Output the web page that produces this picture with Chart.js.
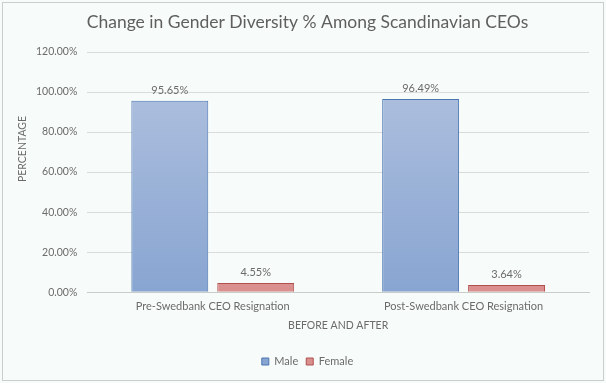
<!DOCTYPE html>
<html>
<head>
<meta charset="utf-8">
<script src="https://cdn.jsdelivr.net/npm/chart.js@4/dist/chart.umd.min.js"></script>
<style>
html,body{margin:0;padding:0;background:#fff;}
#wrap{width:606px;height:383px;position:relative;}
</style>
</head>
<body>
<div id="wrap"><canvas id="c" width="606" height="383"></canvas></div>
<script>
const categories = ["Pre-Swedbank CEO Resignation", "Post-Swedbank CEO Resignation"];
const maleValues = [95.65, 96.49];
const femaleValues = [4.55, 3.64];
const seriesNames = ["Male", "Female"];
const titleText = "Change in Gender Diversity % Among Scandinavian CEOs";
const yTitle = "PERCENTAGE";
const xTitle = "BEFORE AND AFTER";

const FONT = "Lato, 'Open Sans', sans-serif";
const TXT = "#6b6b6b";

function grad(ctx, area, top, bottom) {
  const g = ctx.createLinearGradient(0, area.top, 0, area.bottom);
  g.addColorStop(0, top);
  g.addColorStop(1, bottom);
  return g;
}

const bgPlugin = {
  id: "bg",
  beforeDraw(chart) {
    const c = chart.ctx;
    c.save();
    c.fillStyle = "#f7fbf9";
    c.fillRect(0, 0, chart.width, chart.height);
    c.strokeStyle = "#c9cfcc";
    c.lineWidth = 1;
    c.strokeRect(2.5, 2.5, chart.width - 5, chart.height - 5);
    c.restore();
  }
};

const labelPlugin = {
  id: "vals",
  afterDatasetsDraw(chart) {
    const c = chart.ctx;
    c.save();
    c.font = "11px " + FONT;
    c.fillStyle = TXT;
    c.textAlign = "center";
    c.textBaseline = "bottom";
    chart.data.datasets.forEach((ds, i) => {
      chart.getDatasetMeta(i).data.forEach((bar, j) => {
        c.fillText(ds.data[j].toFixed(2) + "%", bar.x, bar.y - 5);
      });
    });
    // y axis title
    c.font = "10.5px " + FONT;
    c.translate(23, 149);
    c.rotate(-Math.PI / 2);
    c.textBaseline = "middle";
    c.fillText(yTitle, 0, 0);
    c.restore();
  }
};

new Chart(document.getElementById("c"), {
  type: "bar",
  data: {
    labels: categories,
    datasets: [
      {
        label: seriesNames[0],
        data: maleValues,
        backgroundColor: (ctx) => {
          const a = ctx.chart.chartArea;
          if (!a) return "#9db3d9";
          return grad(ctx.chart.ctx, a, "#b3c3e0", "#88a5d1");
        },
        borderColor: "#4a76b2",
        borderWidth: 1,
        categoryPercentage: 0.685,
        barPercentage: 0.895
      },
      {
        label: seriesNames[1],
        data: femaleValues,
        backgroundColor: (ctx) => {
          const a = ctx.chart.chartArea;
          if (!a) return "#e0a0a0";
          return grad(ctx.chart.ctx, a, "#f0bcbb", "#d98f8e");
        },
        borderColor: "#b0504e",
        borderWidth: 1,
        categoryPercentage: 0.685,
        barPercentage: 0.895
      }
    ]
  },
  options: {
    responsive: false,
    animation: false,
    layout: { padding: { left: 26, right: 17, top: 6, bottom: 6 } },
    plugins: {
      title: {
        display: true,
        text: titleText,
        color: "#5f5f5f",
        font: { family: FONT, size: 17.5, weight: "normal" },
        padding: { top: 6, bottom: 19 }
      },
      legend: {
        position: "bottom",
        labels: {
          color: TXT,
          font: { family: FONT, size: 11 },
          boxWidth: 7,
          boxHeight: 7,
          padding: 8
        }
      },
      tooltip: { enabled: false }
    },
    scales: {
      x: {
        grid: { display: false, drawTicks: false },
        border: { color: "#c8cdca" },
        ticks: { color: TXT, font: { family: FONT, size: 11 }, padding: 8 },
        title: { display: true, text: xTitle, color: TXT, font: { family: FONT, size: 10.5 }, padding: { top: -2, bottom: 16 } }
      },
      y: {
        min: 0,
        max: 120,
        ticks: {
          stepSize: 20,
          color: TXT,
          font: { family: FONT, size: 10.5 },
          padding: 10,
          callback: (v) => Number(v).toFixed(2) + "%"
        },
        grid: { color: "#d9dcda", drawTicks: false },
        border: { display: false }
      }
    }
  },
  plugins: [bgPlugin, labelPlugin]
});
</script>
</body>
</html>
